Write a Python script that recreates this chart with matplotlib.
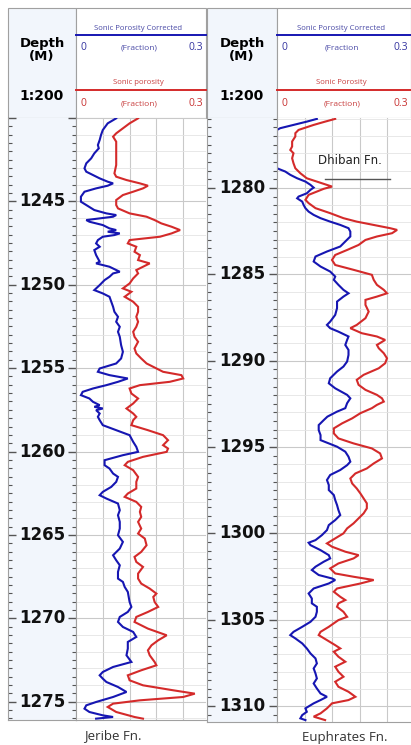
import numpy as np
import matplotlib.pyplot as plt
from matplotlib.patches import Rectangle
from matplotlib.ticker import MultipleLocator

W, H = 411, 745

# (depth m, porosity fraction) picks along each log
jeribe_spc = [
    (1240.02, 0.090), (1240.32, 0.071), (1240.72, 0.060), (1241.02, 0.056), (1241.32, 0.053),
    (1241.62, 0.049), (1241.82, 0.051), (1242.12, 0.041), (1242.42, 0.034), (1242.72, 0.023),
    (1243.02, 0.019), (1243.22, 0.023), (1243.42, 0.038), (1243.62, 0.053), (1243.82, 0.071),
    (1243.92, 0.083), (1244.06, 0.071), (1244.22, 0.045), (1244.42, 0.019), (1244.72, 0.011),
    (1245.02, 0.011), (1245.22, 0.023), (1245.52, 0.041), (1245.72, 0.068), (1245.82, 0.090),
    (1245.92, 0.083), (1246.12, 0.023), (1246.22, 0.030), (1246.42, 0.060), (1246.62, 0.075),
    (1246.72, 0.090), (1246.82, 0.071), (1246.92, 0.098), (1247.02, 0.086), (1247.12, 0.060),
    (1247.32, 0.049), (1247.52, 0.045), (1247.72, 0.053), (1247.92, 0.041), (1248.22, 0.045),
    (1248.62, 0.053), (1248.72, 0.045), (1248.92, 0.075), (1249.12, 0.090), (1249.22, 0.098),
    (1249.32, 0.083), (1249.52, 0.075), (1249.72, 0.064), (1250.02, 0.053), (1250.32, 0.041),
    (1250.52, 0.060), (1250.72, 0.075), (1251.02, 0.079), (1251.32, 0.083), (1251.62, 0.086),
    (1251.92, 0.094), (1252.22, 0.090), (1252.52, 0.098), (1252.82, 0.094), (1253.12, 0.098),
    (1253.62, 0.101), (1254.02, 0.105), (1254.42, 0.101), (1254.72, 0.090), (1255.02, 0.053),
    (1255.22, 0.049), (1255.42, 0.075), (1255.62, 0.116), (1255.82, 0.094), (1256.02, 0.068),
    (1256.22, 0.038), (1256.42, 0.015), (1256.62, 0.011), (1256.82, 0.030), (1257.02, 0.038),
    (1257.22, 0.053), (1257.32, 0.041), (1257.42, 0.060), (1257.52, 0.045), (1257.72, 0.053),
    (1257.92, 0.049), (1258.12, 0.053), (1258.42, 0.060), (1258.72, 0.090), (1259.02, 0.120),
    (1259.22, 0.124), (1259.42, 0.128), (1259.72, 0.135), (1260.02, 0.139), (1260.22, 0.105),
    (1260.52, 0.064), (1260.82, 0.064), (1261.02, 0.075), (1261.32, 0.083), (1261.52, 0.094),
    (1261.82, 0.090), (1262.12, 0.079), (1262.42, 0.060), (1262.62, 0.053), (1262.82, 0.068),
    (1263.12, 0.094), (1263.52, 0.098), (1263.82, 0.094), (1264.22, 0.098), (1264.62, 0.098),
    (1265.02, 0.094), (1265.42, 0.105), (1265.82, 0.098), (1266.22, 0.083), (1266.52, 0.090),
    (1266.82, 0.098), (1267.22, 0.094), (1267.62, 0.094), (1267.82, 0.105), (1268.12, 0.109),
    (1268.42, 0.116), (1269.02, 0.120), (1269.32, 0.124), (1269.62, 0.116), (1269.92, 0.098),
    (1270.22, 0.094), (1270.52, 0.105), (1270.82, 0.128), (1271.12, 0.135), (1271.42, 0.116),
    (1271.82, 0.116), (1272.22, 0.113), (1272.62, 0.124), (1272.92, 0.083), (1273.22, 0.060),
    (1273.42, 0.053), (1273.62, 0.060), (1273.82, 0.068), (1274.12, 0.094), (1274.42, 0.113),
    (1274.72, 0.083), (1275.02, 0.045), (1275.22, 0.023), (1275.42, 0.019), (1275.62, 0.030),
    (1275.82, 0.060), (1275.92, 0.083), (1276.02, 0.045),
]
jeribe_sp = [
    (1240.02, 0.139), (1240.32, 0.120), (1240.62, 0.105), (1240.92, 0.090), (1241.12, 0.083),
    (1241.42, 0.090), (1241.82, 0.090), (1242.22, 0.090), (1242.82, 0.090), (1243.32, 0.086),
    (1243.52, 0.090), (1243.72, 0.113), (1243.92, 0.143), (1244.06, 0.161), (1244.22, 0.150),
    (1244.42, 0.128), (1244.62, 0.105), (1244.92, 0.090), (1245.22, 0.090), (1245.42, 0.094),
    (1245.72, 0.120), (1245.92, 0.158), (1246.12, 0.176), (1246.32, 0.191), (1246.52, 0.214),
    (1246.72, 0.233), (1246.92, 0.214), (1247.12, 0.188), (1247.32, 0.120), (1247.52, 0.116),
    (1247.72, 0.135), (1248.02, 0.131), (1248.22, 0.143), (1248.52, 0.139), (1248.72, 0.165),
    (1248.92, 0.150), (1249.12, 0.135), (1249.32, 0.139), (1249.62, 0.128), (1249.92, 0.120),
    (1250.22, 0.105), (1250.42, 0.124), (1250.72, 0.109), (1251.02, 0.128), (1251.32, 0.139),
    (1251.62, 0.139), (1251.92, 0.135), (1252.22, 0.139), (1252.52, 0.135), (1252.82, 0.128),
    (1253.12, 0.131), (1253.42, 0.139), (1253.82, 0.131), (1254.12, 0.135), (1254.42, 0.146),
    (1254.72, 0.158), (1255.02, 0.180), (1255.22, 0.195), (1255.42, 0.236), (1255.62, 0.240),
    (1255.82, 0.210), (1256.02, 0.143), (1256.22, 0.120), (1256.52, 0.124), (1256.82, 0.139),
    (1257.12, 0.128), (1257.42, 0.113), (1257.72, 0.128), (1257.92, 0.135), (1258.12, 0.128),
    (1258.42, 0.124), (1258.72, 0.161), (1259.02, 0.195), (1259.32, 0.206), (1259.62, 0.195),
    (1259.82, 0.206), (1260.02, 0.203), (1260.32, 0.150), (1260.62, 0.116), (1260.82, 0.109),
    (1261.12, 0.128), (1261.52, 0.139), (1261.82, 0.135), (1262.22, 0.135), (1262.52, 0.116),
    (1262.72, 0.109), (1263.02, 0.135), (1263.32, 0.146), (1263.62, 0.143), (1263.92, 0.146),
    (1264.22, 0.139), (1264.62, 0.146), (1264.92, 0.139), (1265.22, 0.154), (1265.62, 0.158),
    (1266.02, 0.146), (1266.32, 0.131), (1266.62, 0.135), (1266.92, 0.150), (1267.32, 0.139),
    (1267.62, 0.139), (1267.92, 0.146), (1268.22, 0.165), (1268.52, 0.180), (1268.72, 0.173),
    (1269.02, 0.176), (1269.32, 0.184), (1269.62, 0.161), (1269.92, 0.135), (1270.22, 0.131),
    (1270.62, 0.161), (1271.02, 0.203), (1271.32, 0.184), (1271.62, 0.169), (1271.92, 0.161),
    (1272.22, 0.165), (1272.62, 0.176), (1272.82, 0.180), (1273.12, 0.146), (1273.42, 0.116),
    (1273.72, 0.120), (1274.02, 0.150), (1274.32, 0.218), (1274.52, 0.266), (1274.72, 0.240),
    (1274.92, 0.143), (1275.12, 0.083), (1275.32, 0.071), (1275.62, 0.090), (1275.92, 0.131),
    (1276.02, 0.150),
]
euphrates_spc = [
    (1276.00, 0.087), (1276.16, 0.065), (1276.35, 0.036), (1276.54, 0.007), (1276.64, 0.000),
    (1278.86, 0.000), (1279.05, 0.018), (1279.24, 0.029), (1279.44, 0.044), (1279.63, 0.062),
    (1279.82, 0.073), (1279.98, 0.080), (1280.11, 0.073), (1280.31, 0.065), (1280.50, 0.047),
    (1280.60, 0.044), (1280.79, 0.055), (1280.98, 0.058), (1281.17, 0.062), (1281.37, 0.069),
    (1281.56, 0.080), (1281.75, 0.095), (1281.95, 0.116), (1282.14, 0.138), (1282.33, 0.156),
    (1282.53, 0.160), (1282.81, 0.160), (1283.10, 0.149), (1283.39, 0.138), (1283.68, 0.109),
    (1283.97, 0.084), (1284.26, 0.080), (1284.55, 0.095), (1284.84, 0.116), (1285.13, 0.127),
    (1285.32, 0.124), (1285.61, 0.134), (1285.90, 0.145), (1286.10, 0.156), (1286.29, 0.145),
    (1286.58, 0.131), (1286.96, 0.131), (1287.35, 0.127), (1287.74, 0.116), (1287.93, 0.109),
    (1288.12, 0.116), (1288.32, 0.134), (1288.60, 0.156), (1288.80, 0.153), (1289.09, 0.149),
    (1289.38, 0.156), (1289.67, 0.156), (1290.05, 0.153), (1290.34, 0.145), (1290.63, 0.131),
    (1291.02, 0.116), (1291.31, 0.113), (1291.60, 0.127), (1291.98, 0.153), (1292.18, 0.160),
    (1292.46, 0.153), (1292.75, 0.149), (1292.95, 0.131), (1293.24, 0.110), (1293.44, 0.102),
    (1293.73, 0.091), (1294.02, 0.091), (1294.31, 0.095), (1294.60, 0.095), (1294.79, 0.113),
    (1294.98, 0.131), (1295.27, 0.149), (1295.56, 0.156), (1295.85, 0.160), (1296.05, 0.153),
    (1296.33, 0.138), (1296.62, 0.116), (1296.91, 0.109), (1297.20, 0.113), (1297.49, 0.113),
    (1297.78, 0.124), (1298.07, 0.127), (1298.36, 0.131), (1298.65, 0.134), (1298.94, 0.138),
    (1299.23, 0.127), (1299.52, 0.113), (1299.81, 0.109), (1300.10, 0.098), (1300.39, 0.084),
    (1300.54, 0.069), (1300.68, 0.073), (1300.97, 0.095), (1301.26, 0.113), (1301.45, 0.116),
    (1301.64, 0.102), (1301.93, 0.084), (1302.12, 0.076), (1302.41, 0.091), (1302.61, 0.120),
    (1302.70, 0.127), (1302.90, 0.113), (1303.19, 0.080), (1303.48, 0.069), (1303.77, 0.076),
    (1304.05, 0.076), (1304.25, 0.087), (1304.54, 0.087), (1304.83, 0.084), (1305.12, 0.073),
    (1305.41, 0.055), (1305.70, 0.036), (1305.89, 0.029), (1306.08, 0.040), (1306.37, 0.055),
    (1306.66, 0.065), (1306.95, 0.073), (1307.24, 0.084), (1307.53, 0.087), (1307.82, 0.080),
    (1308.11, 0.084), (1308.40, 0.087), (1308.69, 0.080), (1308.98, 0.087), (1309.27, 0.095),
    (1309.46, 0.109), (1309.65, 0.095), (1309.84, 0.080), (1310.13, 0.062), (1310.33, 0.065),
    (1310.52, 0.055), (1310.71, 0.051), (1310.81, 0.062),
]
euphrates_sp = [
    (1276.00, 0.127), (1276.16, 0.105), (1276.35, 0.080), (1276.64, 0.047), (1276.83, 0.040),
    (1277.02, 0.040), (1277.31, 0.033), (1277.60, 0.033), (1277.80, 0.029), (1277.99, 0.036),
    (1278.28, 0.033), (1278.57, 0.036), (1278.86, 0.040), (1279.15, 0.051), (1279.44, 0.065),
    (1279.63, 0.087), (1279.82, 0.109), (1279.92, 0.120), (1280.05, 0.102), (1280.21, 0.087),
    (1280.40, 0.069), (1280.69, 0.062), (1280.88, 0.069), (1281.17, 0.084), (1281.46, 0.116),
    (1281.75, 0.145), (1281.95, 0.174), (1282.14, 0.211), (1282.33, 0.247), (1282.43, 0.262),
    (1282.62, 0.251), (1282.81, 0.218), (1283.01, 0.193), (1283.30, 0.178), (1283.59, 0.153),
    (1283.88, 0.127), (1284.17, 0.120), (1284.46, 0.127), (1284.74, 0.167), (1285.03, 0.207),
    (1285.32, 0.211), (1285.61, 0.218), (1285.90, 0.233), (1286.10, 0.240), (1286.29, 0.218),
    (1286.48, 0.193), (1286.77, 0.193), (1287.16, 0.200), (1287.54, 0.193), (1287.93, 0.174),
    (1288.12, 0.160), (1288.41, 0.185), (1288.60, 0.218), (1288.80, 0.236), (1289.09, 0.218),
    (1289.28, 0.222), (1289.57, 0.233), (1289.86, 0.240), (1290.15, 0.236), (1290.44, 0.222),
    (1290.82, 0.189), (1291.11, 0.174), (1291.40, 0.178), (1291.69, 0.193), (1291.98, 0.218),
    (1292.18, 0.229), (1292.37, 0.233), (1292.56, 0.218), (1292.75, 0.207), (1293.04, 0.182),
    (1293.24, 0.170), (1293.34, 0.164), (1293.63, 0.142), (1293.92, 0.124), (1294.21, 0.124),
    (1294.50, 0.134), (1294.79, 0.167), (1295.08, 0.207), (1295.37, 0.225), (1295.66, 0.229),
    (1295.95, 0.211), (1296.24, 0.196), (1296.53, 0.171), (1296.82, 0.160), (1297.11, 0.164),
    (1297.40, 0.174), (1297.69, 0.182), (1297.98, 0.189), (1298.26, 0.196), (1298.55, 0.196),
    (1298.84, 0.189), (1299.13, 0.178), (1299.42, 0.167), (1299.71, 0.153), (1300.00, 0.145),
    (1300.29, 0.127), (1300.58, 0.109), (1300.77, 0.120), (1301.06, 0.149), (1301.26, 0.178),
    (1301.45, 0.167), (1301.74, 0.134), (1302.03, 0.116), (1302.32, 0.127), (1302.51, 0.167),
    (1302.70, 0.211), (1302.90, 0.182), (1303.19, 0.131), (1303.38, 0.124), (1303.67, 0.138),
    (1303.86, 0.149), (1304.05, 0.134), (1304.25, 0.131), (1304.54, 0.145), (1304.83, 0.153),
    (1305.02, 0.134), (1305.41, 0.113), (1305.70, 0.095), (1305.89, 0.091), (1306.18, 0.109),
    (1306.47, 0.127), (1306.66, 0.138), (1306.85, 0.124), (1307.14, 0.134), (1307.43, 0.149),
    (1307.72, 0.127), (1308.01, 0.134), (1308.30, 0.145), (1308.59, 0.127), (1308.88, 0.134),
    (1309.17, 0.156), (1309.46, 0.171), (1309.65, 0.156), (1309.84, 0.120), (1310.13, 0.109),
    (1310.42, 0.095), (1310.61, 0.080), (1310.81, 0.105),
]

jeribe_depth_labels = [1245, 1250, 1255, 1260, 1265, 1270, 1275]
euphrates_depth_labels = [1280, 1285, 1290, 1295, 1300, 1305, 1310]

BLUE = "#1616b2"
RED = "#d42a2a"
EDGE = "#a0a0a0"
DEPTH_BG = "#f2f6fc"
SMALL_FONT = "Open Sans"

fig = plt.figure(figsize=(W / 100, H / 100), dpi=100)
fig.patch.set_facecolor("white")


def px_axes(x0, y0, x1, y1, **kw):
    # axes placed by pixel box (top-left origin)
    return fig.add_axes([x0 / W, 1 - y1 / H, (x1 - x0) / W, (y1 - y0) / H], **kw)


canvas = px_axes(0, 0, W, H)
canvas.set_xlim(0, W)
canvas.set_ylim(H, 0)
canvas.axis("off")


def draw_panel(x0, xd, x1, ytop, ybot, dtop, dbot, full_px, labels, spc, sp,
               spc_unit, sp_title, fm_name, fm_x):
    # header boxes
    canvas.add_patch(Rectangle((x0, 8), xd - x0, ytop - 8, fc=DEPTH_BG, ec=EDGE, lw=0.8))
    canvas.add_patch(Rectangle((xd, 8), x1 - xd, ytop - 8, fc="white", ec=EDGE, lw=0.8))
    xc = (x0 + xd) / 2
    canvas.text(xc, 43.5, "Depth", ha="center", va="center", fontsize=9.5, fontweight="bold")
    canvas.text(xc, 56.5, "(M)", ha="center", va="center", fontsize=9.5, fontweight="bold")
    canvas.text(xc, 96, "1:200", ha="center", va="center", fontsize=10, fontweight="bold")

    tc = xd + (x1 - xd) * 0.5
    canvas.plot([xd, x1], [35, 35], color=BLUE, lw=1.4)
    canvas.text(tc - 3, 28.5, "Sonic Porosity Corrected", ha="center", va="center",
                fontsize=5.6, color="#4a4aa6", family=SMALL_FONT)
    canvas.text(xd + 7, 48, "0", ha="center", va="center", fontsize=7.5, color="#3535a0",
                family=SMALL_FONT)
    canvas.text(tc - 2, 48, spc_unit, ha="center", va="center", fontsize=6, color="#4a4aa6",
                family=SMALL_FONT)
    canvas.text(x1 - 3, 48, "0.3", ha="right", va="center", fontsize=7.5, color="#3535a0",
                family=SMALL_FONT)

    canvas.plot([xd, x1], [90, 90], color=RED, lw=1.4)
    canvas.text(tc - 3, 83, sp_title, ha="center", va="center",
                fontsize=5.6, color="#c84040", family=SMALL_FONT)
    canvas.text(xd + 7, 104, "0", ha="center", va="center", fontsize=7.5, color="#c83232",
                family=SMALL_FONT)
    canvas.text(tc - 2, 104, "(Fraction)", ha="center", va="center", fontsize=6,
                color="#c84040", family=SMALL_FONT)
    canvas.text(x1 - 3, 104, "0.3", ha="right", va="center", fontsize=7.5, color="#c83232",
                family=SMALL_FONT)

    canvas.text(fm_x, ybot + 16, fm_name, ha="center", va="center", fontsize=9.5,
                color="#333333", family=SMALL_FONT)

    # depth column
    dax = px_axes(x0, ytop, xd, ybot, facecolor=DEPTH_BG)
    dax.set_xlim(0, 1)
    dax.set_ylim(dbot, dtop)
    dax.set_xticks([])
    dax.yaxis.set_major_locator(MultipleLocator(5))
    dax.yaxis.set_minor_locator(MultipleLocator(0.5))
    dax.tick_params(axis="y", which="both", left=True, right=True, direction="in",
                    labelleft=False, color="#555555")
    dax.tick_params(axis="y", which="major", length=6, width=1.0)
    dax.tick_params(axis="y", which="minor", length=3, width=0.8)
    for s in dax.spines.values():
        s.set_color(EDGE)
        s.set_linewidth(0.8)
    dax.spines["top"].set_visible(False)
    for d in labels:
        dax.text(0.5, d, str(d), ha="center", va="center", fontsize=12, fontweight="bold",
                 color="#111111")

    # log track
    ax = px_axes(xd, ytop, x1, ybot)
    ax.set_xlim(0, 0.3 * (x1 - xd) / full_px)
    ax.set_ylim(dbot, dtop)
    ax.set_xticks(np.arange(0.06, 0.3, 0.06))
    ax.yaxis.set_major_locator(MultipleLocator(5))
    ax.yaxis.set_minor_locator(MultipleLocator(1))
    ax.grid(which="major", color="#c9c9c9", lw=0.8)
    ax.grid(which="minor", axis="y", color="#e4e4e4", lw=0.6)
    ax.set_axisbelow(True)
    ax.tick_params(which="both", length=0, labelleft=False, labelbottom=False)
    for s in ax.spines.values():
        s.set_color(EDGE)
        s.set_linewidth(0.8)
    ax.spines["top"].set_visible(False)
    ax.spines["right"].set_visible(False)

    sp_d, sp_v = np.array(sp).T
    spc_d, spc_v = np.array(spc).T
    ax.plot(sp_v, sp_d, color=RED, lw=1.5, solid_joinstyle="miter")
    ax.plot(spc_v, spc_d, color=BLUE, lw=1.5, solid_joinstyle="miter")
    return ax


draw_panel(8, 76, 206, 118, 720, 1240.0, 1276.1, 134, jeribe_depth_labels,
           jeribe_spc, jeribe_sp, "(Fraction)", "Sonic porosity", "Jeribe Fn.", 113)
ax_e = draw_panel(207, 277, 411, 118, 722, 1275.95, 1310.92, 137.5, euphrates_depth_labels,
                  euphrates_spc, euphrates_sp, "(Fraction", "Sonic Porosity",
                  "Euphrates Fn.", 345)

ax_e.text(0.159, 1278.4, "Dhiban Fn.", ha="center", va="center", fontsize=8.5,
          color="#222222")
ax_e.plot([0.105, 0.246], [1279.5, 1279.5], color="#555555", lw=1.0)

fig.savefig("out.png", dpi=100, facecolor="white")
